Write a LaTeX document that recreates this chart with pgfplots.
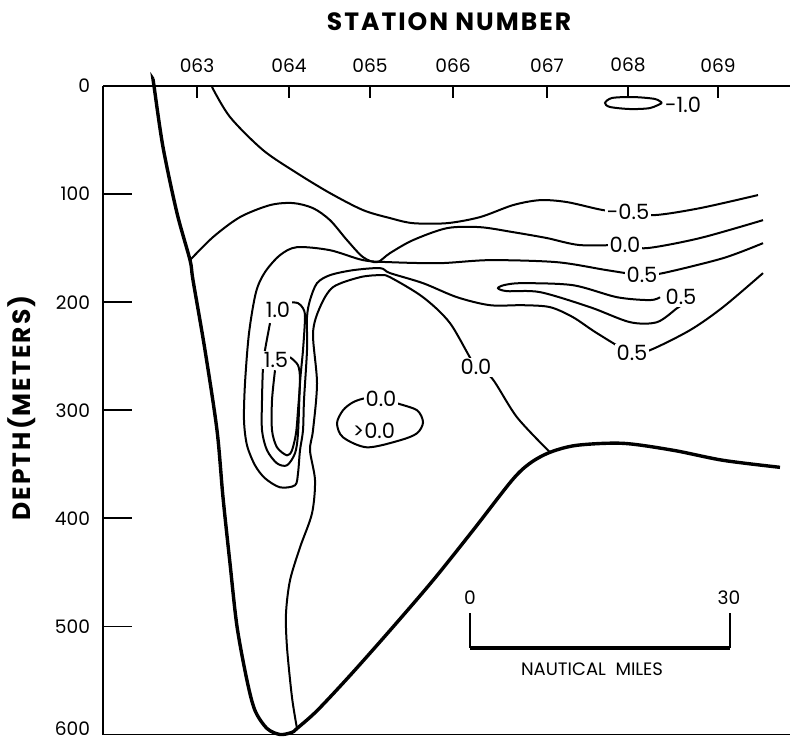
\documentclass[border=0pt]{standalone}
\usepackage{pgfplots}
\pgfplotsset{compat=1.18}
\usepackage{fontspec}
\setmainfont{Poppins}
\newfontfamily\titlefont[LetterSpace=8]{Poppins}
\tikzset{clabel/.style={fill=white, inner sep=0.8pt, font=\fontsize{10.5}{12}\selectfont}}
\begin{document}
\begin{tikzpicture}
\path[use as bounding box] (0,0) rectangle (395pt,371pt);
\begin{axis}[
  at={(51.5pt,3.75pt)}, anchor=south west,
  scale only axis, width=343.5pt, height=324.25pt,
  xmin=0, xmax=687, ymin=0, ymax=600, y dir=reverse,
  axis x line=box, axis y line=left,
  every outer x axis line/.append style={-},
  every outer y axis line/.append style={-},
  axis line style={line width=0.9pt, -},
  clip=false,
  tick align=inside,
  xtick={94,186,267,350,444,525,615},
  xticklabels={063,064,065,066,067,068,069},
  xtick pos=right, xticklabel pos=right,
  ytick={0,100,...,500},
  extra y ticks={600},
  extra y tick style={yticklabel style={yshift=3pt}},
  ytick pos=left,
  x tick style={line width=0.8pt, black, /pgfplots/major tick length=6pt},
  y tick style={line width=0.9pt, black, /pgfplots/major tick length=14.5pt},
  tick label style={font=\fontsize{9.3}{11}\selectfont},
  yticklabel style={xshift=-3pt},
  xticklabel style={yshift=3.4pt},
  /pgf/number format/assume math mode=true,
  cycle list={{black, solid}},
  every axis plot/.append style={black, solid, line width=1pt, smooth, no markers},
]
% sea floor
\addplot[black, line width=1.7pt] coordinates {(50,-6.5) (51,0) (60,56.5) (74,117.6) (87,161.1) (90,179.6) (102,244.4) (114,318.5) (120,380.6) (127,441.7) (134,500) (144,550) (152,577.8) (164,594.4) (177,600) (189,598) (194,594.4) (214,578) (247,545.4) (287,503.7) (330,457.4) (370,411.1) (409,364.8) (427,349) (447,338.9) (474,332.4) (520,330.6) (570,337) (620,346.3) (677,352.8)};
% -0.5
\addplot[black] coordinates {(109,0.9) (127,28.7) (160,59.3) (194,80.6) (227,99.1) (260,114.8) (287,122.2) (310,126.9) (344,126.9) (377,121.3) (410,110.2) (437,105.6) (464,107.4) (500,114.8) (525,116.7) (552,119.4) (597,113) (655,100.9)};
% 0.0 upper
\addplot[black] coordinates {(87,161.1) (110,139.8) (137,121.3) (167,110.2) (190,108.3) (210,113) (227,124.1) (244,142.6) (260,158.3) (274,163) (287,154.6) (310,142.6) (344,131.5) (377,130.6) (410,135.2) (444,140.7) (477,147.2) (522,147.2) (544,150) (597,140.7) (660,124.1)};
% 0.5 big contour
\addplot[black] coordinates {(660,145.4) (620,159.3) (560,173.1) (539,175) (504,170.4) (454,163) (387,161.1) (337,163.9) (287,163) (260,161.1) (227,151.9) (194,149.1) (177,156.5) (162,172.2) (153,190.7) (146,228.7) (142,275) (141,309.3) (144,332.4) (152,350.9) (162,362.9) (177,371.3) (192,369.4) (195,358.3) (197,337) (200,318.5) (201,290.7) (204,244.4) (204,213.9) (207,198.1) (214,182.4) (227,175) (250,170.4) (277,168.5) (287,173.1) (320,182.4) (354,195.4) (387,202.8) (420,202.8) (447,204.6) (470,213.9) (494,228.7) (529,247.2) (547,244.4) (587,225.9) (620,204.6) (660,173.1)};
% 0.5 finger
\addplot[black] coordinates {(579,202.8) (574,205.6) (554,218.5) (527,218.5) (487,204.6) (437,190.7) (404,189.8) (395,187) (402,184) (420,182.4) (470,184.3) (514,195.4) (547,198.1) (557,195.4)};
% 0.0 arch
\addplot[black] coordinates {(194,594.4) (189,565.7) (184,519.4) (183,488) (187,457.4) (197,426.9) (209,395.4) (212,364.8) (207,337) (210,318.5) (214,275) (210,228.7) (217,204.6) (230,186.1) (257,176.9) (277,175) (287,176.9) (320,195.4) (347,219.4) (373,260.2) (389,270.4) (414,306.5) (447,338.9)};
% 1.0
\addplot[black] coordinates {(187,200) (195,200.9) (200,205.6) (202,213.9) (200,244.4) (197,275) (195,321.3) (192,339.8) (184,350.9) (174,349.1) (164,337) (159,318.5) (159,290.7) (160,260.2) (162,244.4) (167,219.4)};
% 1.5
\addplot[black] coordinates {(187,250.9) (195,258.3) (197,272.2) (195,300) (193,321.3) (189,337) (184,341.7) (174,334.3) (169,318.5) (169,290.7) (172,263)};
% cold loop
\addplot[black] coordinates {(277,288) (294,293.5) (314,300) (320,311.1) (314,321.3) (297,327.8) (264,334.3) (240,325) (234,312) (240,300) (250,292.6) (262,288.9) (277,288)};
% -1.0 lens
\addplot[black] coordinates {(559,15.7) (547,20.4) (527,21.3) (507,19.4) (502,15.7) (509,11.1) (530,10.2) (552,12) (559,15.7)};
% scale bar
\addplot[black, sharp plot, line width=1pt] coordinates {(367,488) (367,520.4)};
\addplot[black, sharp plot, line width=1pt] coordinates {(627,488) (627,520.4)};
\addplot[black, sharp plot, line width=2pt] coordinates {(367,520.4) (627,520.4)};
% labels
\node[clabel] at (axis cs:525,116.7) {-0.5};
\node[clabel] at (axis cs:522,147.2) {0.0};
\node[clabel] at (axis cs:539,175) {0.5};
\node[clabel] at (axis cs:578,195.4) {0.5};
\node[clabel] at (axis cs:529,247.2) {0.5};
\node[clabel] at (axis cs:373,260.2) {0.0};
\node[clabel] at (axis cs:175,207.4) {1.0};
\node[clabel] at (axis cs:173,253.7) {1.5};
\node[clabel] at (axis cs:278,289) {0.0};
\node[clabel, fill=none] at (axis cs:271,319.4) {>0.0};
\node[clabel, fill=none] at (axis cs:580,17.6) {-1.0};
\node[font=\fontsize{9.3}{11}\selectfont] at (axis cs:367,473) {0};
\node[font=\fontsize{9.3}{11}\selectfont] at (axis cs:626,473) {30};
\node[font=\fontsize{9}{11}\selectfont] at (axis cs:489,540) {NAUTICAL\ \ MILES};
\end{axis}
\node[rotate=90, font=\titlefont\bfseries\fontsize{12.5}{14}\selectfont] at (11pt,167pt) {DEPTH(METERS)};
\node[font=\titlefont\bfseries\fontsize{12.5}{14}\selectfont] at (224.5pt,360pt) {STATION NUMBER};
\end{tikzpicture}
\end{document}
